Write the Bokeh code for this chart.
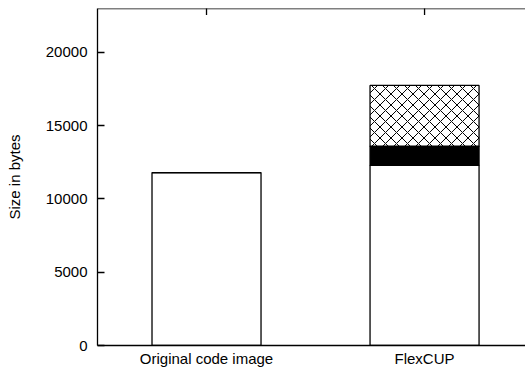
import numpy as np
from bokeh.plotting import figure
from bokeh.models import (Range1d, FixedTicker, LinearAxis, Span)
from bokeh.core.properties import value
from bokeh.embed import file_html
from bokeh.resources import INLINE

# ---- data ----
categories = ["Original code image", "FlexCUP"]
code = [11800, 12300]
symbol_table = [0, 1300]
relocation_table = [0, 4150]
series_names = ["code", "symbol table", "relocation table"]
y_ticks = [0, 5000, 10000, 15000, 20000]

FONT = "Liberation Sans"
FS = "15px"
Y_MAX = 23000

x = np.arange(1, len(categories) + 1)
b0 = np.zeros(len(categories))
t0 = b0 + np.array(code)
t1 = t0 + np.array(symbol_table)
t2 = t1 + np.array(relocation_table)

p = figure(width=525, height=369, output_backend="svg", toolbar_location=None,
           x_range=Range1d(0.5, 2.463), y_range=Range1d(0, Y_MAX),
           min_border_left=97, min_border_right=0, min_border_top=8,
           min_border_bottom=24, x_axis_location=None, y_axis_location=None)
p.outline_line_color = None
p.grid.visible = False
p.background_fill_color = "white"
p.border_fill_color = "white"

# bars
p.vbar(x=x, bottom=b0, top=t0, width=0.5, fill_color="white",
       line_color="black", line_width=1.3)
p.vbar(x=x, bottom=t0, top=t1, width=0.5, fill_color="black",
       line_color="black", line_width=1.3)
p.vbar(x=x, bottom=t1, top=t2, width=0.5, fill_color="white",
       hatch_pattern="diagonal_cross", hatch_color="black", hatch_scale=11,
       hatch_weight=1, line_color="black", line_width=1.3)

# axes
xaxis = LinearAxis(ticker=FixedTicker(ticks=list(x)),
                   major_label_overrides={int(i): c for i, c in zip(x, categories)},
                   major_tick_in=0, major_tick_out=0, minor_tick_line_color=None,
                   major_label_standoff=4, axis_line_width=1.3,
                   axis_line_color="black", major_label_text_color="black",
                   major_label_text_font=FONT, major_label_text_font_size=FS)
p.add_layout(xaxis, "below")

yaxis = LinearAxis(ticker=FixedTicker(ticks=y_ticks), major_tick_in=7,
                   major_tick_out=0, minor_tick_line_color=None,
                   major_label_standoff=10, axis_line_width=1.3,
                   axis_line_color="black", major_tick_line_color="black",
                   major_tick_line_width=1.3, major_label_text_color="black",
                   major_label_text_font=FONT, major_label_text_font_size=FS,
                   axis_label="Size in bytes", axis_label_standoff=20,
                   axis_label_text_color="black",
                   axis_label_text_font=FONT, axis_label_text_font_size=FS,
                   axis_label_text_font_style="normal")
p.add_layout(yaxis, "left")

# top border with mirrored category ticks
p.add_layout(Span(location=Y_MAX, dimension="width", line_color="black",
                  line_width=1.3))
p.scatter(x=x, y=[Y_MAX] * len(x), marker="dash", size=13, angle=np.pi / 2,
          line_color="black", line_width=1.3)

open("out.html", "w").write(file_html(p, INLINE))
